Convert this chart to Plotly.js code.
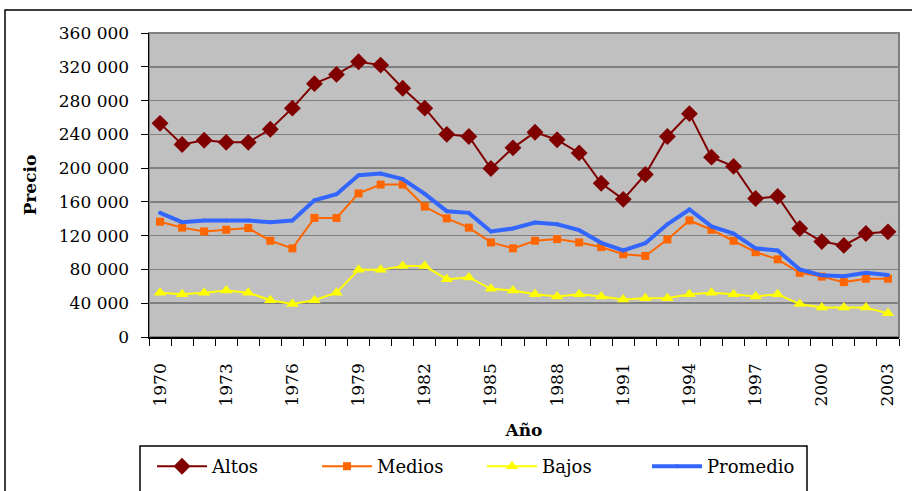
<!DOCTYPE html>
<html>
<head>
<meta charset="utf-8">
<script src="https://cdn.plot.ly/plotly-3.0.1.min.js"></script>
<style>html,body{margin:0;padding:0;background:#fff;}#chart{width:912px;height:491px;}</style>
</head>
<body>
<div id="chart"></div>
<script>
var years = [1970,1971,1972,1973,1974,1975,1976,1977,1978,1979,1980,1981,1982,1983,1984,1985,1986,1987,1988,1989,1990,1991,1992,1993,1994,1995,1996,1997,1998,1999,2000,2001,2002,2003];
var altos = [253000,228000,233000,230500,230500,246000,271000,300000,311000,326000,322000,294500,271000,240000,237500,199500,224000,242500,233500,218000,182000,163000,192500,237500,264500,213000,202000,164000,166500,128500,113000,108500,122500,124500];
var medios = [136500,129500,125000,127000,129000,114000,105000,141000,141000,170000,180500,180500,154500,140500,129500,112000,105000,114000,116000,112000,106500,98000,96000,115500,138000,127000,114000,100500,92000,76000,71500,65000,69000,69000];
var bajos = [52500,50500,52500,55000,52500,43500,39000,43500,52500,79500,79500,84000,84000,68500,70500,57000,55000,50500,48000,50500,48000,44500,46000,46000,50500,52500,50500,48000,50500,39000,35000,35000,35000,28000];
var promedio = [147000,136000,138000,138000,138000,136000,138000,162000,169000,191500,193500,187000,169500,149000,147000,125000,128500,135500,133500,126500,111500,102500,111000,133500,151000,131000,122500,105000,102500,80000,73000,72000,76000,73500];
var seriesNames = ["Altos","Medios","Bajos","Promedio"];

var FONT = "DejaVu Serif";
var traces = [
  {x: years, y: altos, name: seriesNames[0], type: "scatter", mode: "lines+markers",
   line: {color: "#800000", width: 2}, marker: {symbol: "diamond", size: 13, color: "#800000"}},
  {x: years, y: medios, name: seriesNames[1], type: "scatter", mode: "lines+markers",
   line: {color: "#FF6600", width: 2}, marker: {symbol: "square", size: 8, color: "#FF6600"}},
  {x: years, y: bajos, name: seriesNames[2], type: "scatter", mode: "lines+markers",
   line: {color: "#FFFF00", width: 2}, marker: {symbol: "triangle-up", size: 11, color: "#FFFF00"}},
  {x: years, y: promedio, name: seriesNames[3], type: "scatter", mode: "lines+markers",
   line: {color: "#3366FF", width: 4}, marker: {symbol: "circle", size: 4, color: "#3366FF"}}
];

var L = 149, R = 13, T = 33, B = 154;
var W = 912 - L - R, H = 491 - T - B;
function px(x){ return (x - L) / W; }
function py(y){ return (491 - B - y) / H; }

var layout = {
  width: 912, height: 491,
  margin: {l: L, r: R, t: T, b: B, pad: 0, autoexpand: false},
  paper_bgcolor: "#ffffff",
  plot_bgcolor: "#C0C0C0",
  separators: ", ",
  font: {family: FONT, size: 17, color: "#000"},
  showlegend: true,
  legend: {
    orientation: "h", x: px(152), xanchor: "left", y: py(448), yanchor: "top",
    bgcolor: "rgba(0,0,0,0)", borderwidth: 0,
    itemwidth: 50,
    entrywidth: 100, entrywidthmode: "pixels",
    font: {family: FONT, size: 18, color: "#000"}
  },
  xaxis: {
    type: "linear", range: [1969.5, 2003.5],
    tick0: 1970, dtick: 3, tickmode: "linear",
    tickformat: "d", tickangle: -90,
    ticks: "outside", ticklen: 18, tickcolor: "rgba(0,0,0,0)",
    minor: {tick0: 1969.5, dtick: 1, ticks: "outside", ticklen: 7, tickcolor: "#000", tickwidth: 1, showgrid: false},
    showgrid: false, zeroline: false,
    showline: true, linecolor: "#000", linewidth: 1.5,
    tickfont: {family: FONT, size: 17},
    title: {text: "<b>Año</b>", font: {family: FONT, size: 17}, standoff: 18},
    fixedrange: true, automargin: false
  },
  yaxis: {
    range: [0, 360000], tick0: 0, dtick: 40000, tickmode: "linear",
    tickformat: ",d",
    ticks: "outside", ticklen: 7, tickcolor: "#000", tickwidth: 1,
    ticklabelstandoff: 8,
    showgrid: true, gridcolor: "#808080", gridwidth: 1.5,
    zeroline: false,
    showline: true, linecolor: "#000", linewidth: 1.5,
    tickfont: {family: FONT, size: 17},
    title: {text: "<b>Precio</b>", font: {family: FONT, size: 17}, standoff: 18},
    fixedrange: true, automargin: false
  },
  shapes: [
    {type: "rect", xref: "paper", yref: "paper", x0: 0, x1: 1, y0: 0, y1: 1,
     line: {color: "#808080", width: 2}, layer: "below"},
    {type: "rect", xref: "paper", yref: "paper", x0: px(5), x1: px(916), y0: py(498), y1: py(10),
     line: {color: "#000", width: 1.5}, fillcolor: "rgba(0,0,0,0)", layer: "below"},
    {type: "rect", xref: "paper", yref: "paper", x0: px(140), x1: px(807), y0: py(498), y1: py(446),
     line: {color: "#000", width: 1.5}, fillcolor: "#ffffff", layer: "above"}
  ]
};

Plotly.newPlot("chart", traces, layout, {displayModeBar: false, staticPlot: true});
</script>
</body>
</html>
